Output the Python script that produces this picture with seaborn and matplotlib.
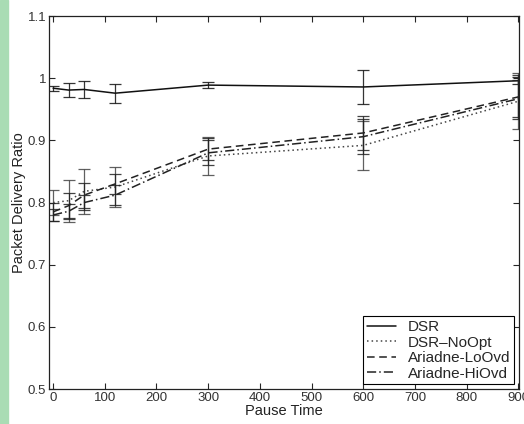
import matplotlib
matplotlib.use('Agg')
import matplotlib.pyplot as plt
import seaborn as sns
import pandas as pd
from matplotlib.patches import Rectangle

# Data
pause_time = [0, 30, 60, 120, 300, 600, 900]

dsr = [0.984, 0.981, 0.982, 0.976, 0.989, 0.986, 0.996]
dsr_err = [0.004, 0.011, 0.014, 0.015, 0.005, 0.028, 0.006]

dsr_noopt = [0.800, 0.803, 0.818, 0.825, 0.875, 0.892, 0.963]
dsr_noopt_err = [0.020, 0.034, 0.036, 0.032, 0.030, 0.040, 0.045]

ariadne_lo = [0.785, 0.795, 0.812, 0.830, 0.886, 0.912, 0.970]
ariadne_lo_err = [0.015, 0.020, 0.020, 0.016, 0.018, 0.028, 0.036]

ariadne_hi = [0.780, 0.786, 0.800, 0.812, 0.880, 0.906, 0.967]
ariadne_hi_err = [0.010, 0.012, 0.012, 0.016, 0.020, 0.028, 0.030]

series = [
    ('DSR', dsr, dsr_err, '-', '#111111'),
    ('DSR\u2013NoOpt', dsr_noopt, dsr_noopt_err, (0, (1, 2)), '#444444'),
    ('Ariadne-LoOvd', ariadne_lo, ariadne_lo_err, (0, (5, 3)), '#222222'),
    ('Ariadne-HiOvd', ariadne_hi, ariadne_hi_err, (0, (6, 2, 1, 2)), '#222222'),
]

sns.set_style('ticks')
plt.rcParams['font.family'] = ['Liberation Sans', 'DejaVu Sans']

fig = plt.figure(figsize=(5.24, 4.24), dpi=100)
ax = fig.add_axes([0.0935, 0.0825, 0.8965, 0.8795])

# green strip on the left edge of the picture
fig.patches.append(Rectangle((0, 0), 8 / 524, 1, transform=fig.transFigure,
                             color='#a9dcb4', zorder=-1))

for name, vals, errs, ls, col in series:
    df = pd.DataFrame({'Pause Time': pause_time, 'ratio': vals})
    sns.lineplot(data=df, x='Pause Time', y='ratio', ax=ax, color=col,
                 linestyle=ls, linewidth=1.1, label=name)
    ax.errorbar(pause_time, vals, yerr=errs, fmt='none', ecolor=col,
                elinewidth=0.9, capsize=4, capthick=0.9, alpha=0.85)

ax.set_xlim(-8, 901)
ax.set_ylim(0.5, 1.1)
ax.set_xticks(range(0, 901, 100))
ax.set_yticks([0.5, 0.6, 0.7, 0.8, 0.9, 1.0, 1.1])
ax.set_yticklabels(['0.5', '0.6', '0.7', '0.8', '0.9', '1', '1.1'])
ax.tick_params(direction='in', top=True, right=True, labelsize=9.5,
               length=4, width=0.8, pad=2, labelcolor='#333333')
for s in ax.spines.values():
    s.set_linewidth(0.9)
    s.set_color('#222222')

ax.set_xlabel('Pause Time', fontsize=10.5, labelpad=0, color='#222222')
ax.set_ylabel('Packet Delivery Ratio', fontsize=10.5, labelpad=1, color='#222222')

leg = ax.legend(loc='lower right', fontsize=11, fancybox=False,
                edgecolor='black', framealpha=1, borderaxespad=0.3,
                handlelength=1.9, borderpad=0.25, labelspacing=0.1)
leg.get_frame().set_linewidth(0.8)

fig.savefig('out.png', dpi=100)
